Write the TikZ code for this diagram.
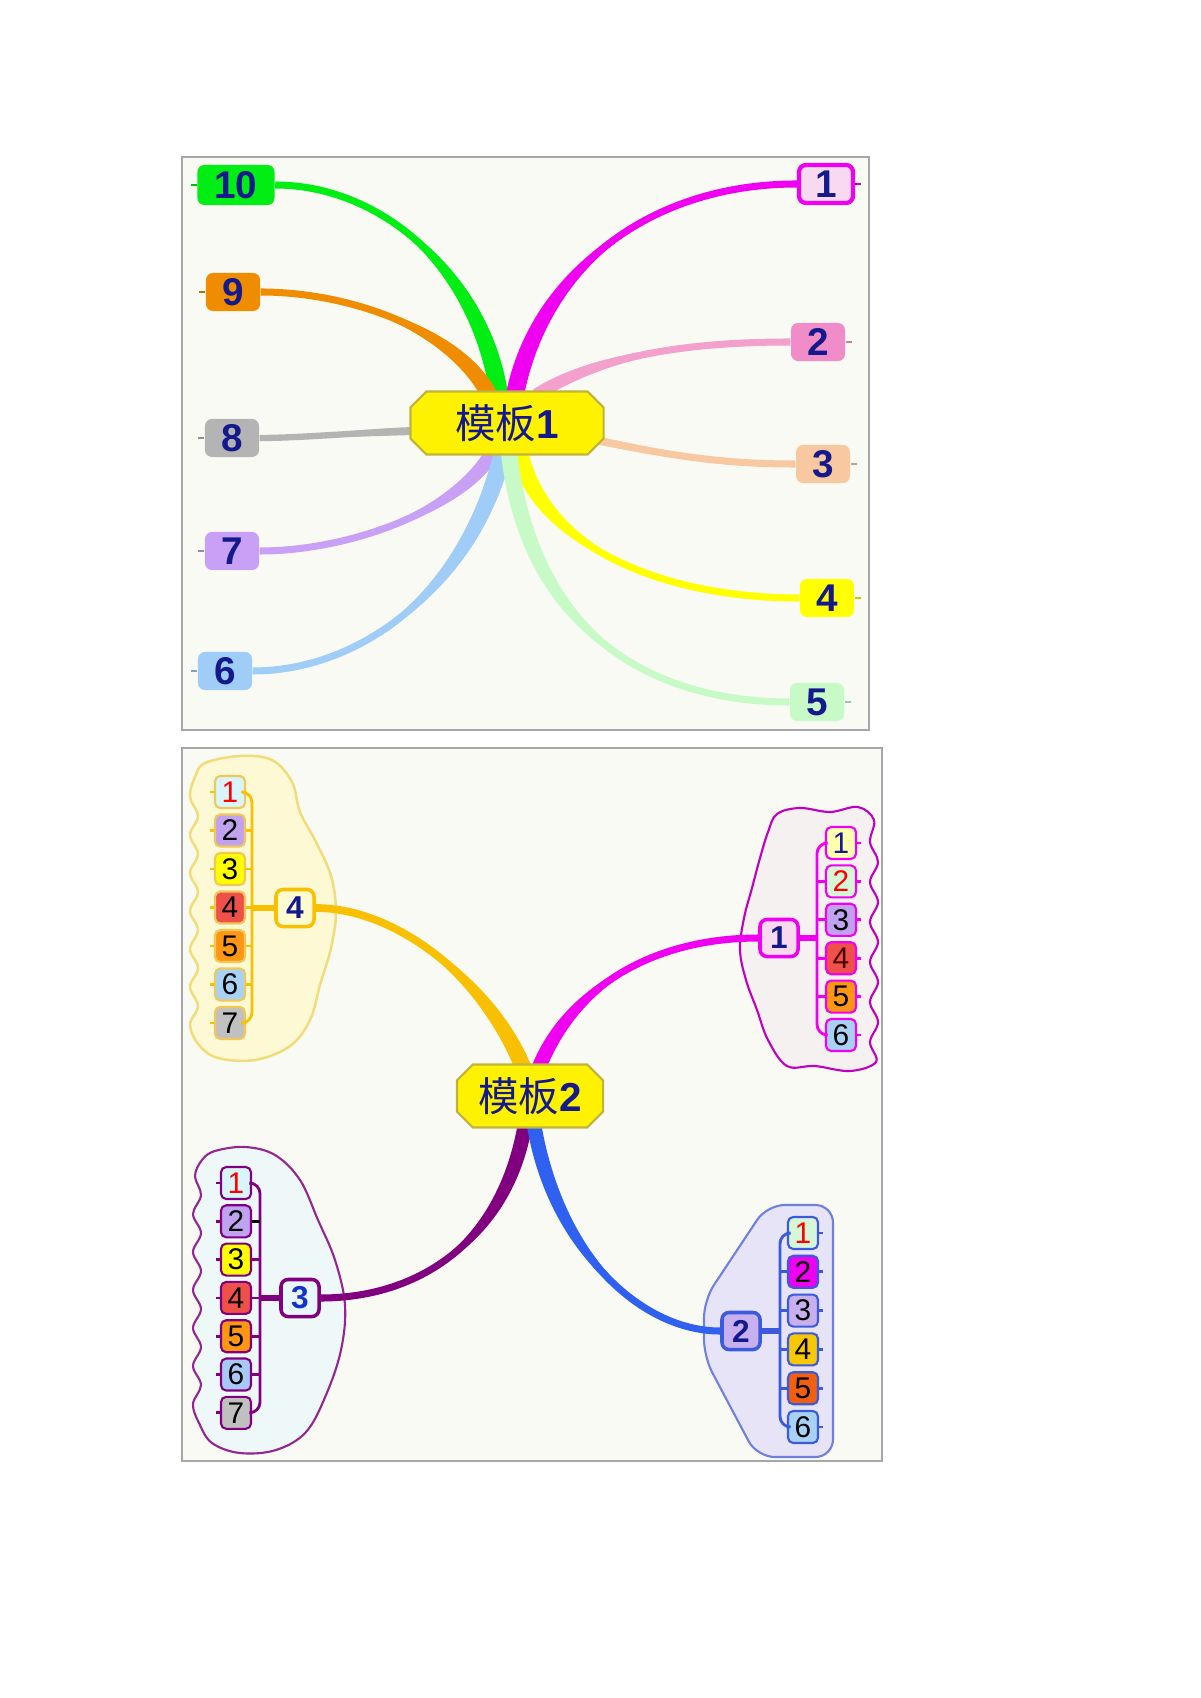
\documentclass[tikz,border=0pt]{standalone}
\usepackage{fontspec}
\setmainfont{Liberation Sans}
\newfontfamily\cjk{Noto Sans CJK SC}
\usetikzlibrary{calc,shapes.misc}

\definecolor{navy}{RGB}{20,25,140}
\definecolor{hubline}{RGB}{190,180,60}
\definecolor{paper}{RGB}{249,250,243}
% top branches
\definecolor{cgreen}{RGB}{0,238,20}
\definecolor{corange}{RGB}{240,140,0}
\definecolor{cgray}{RGB}{180,180,180}
\definecolor{clav}{RGB}{200,160,245}
\definecolor{cblue}{RGB}{160,204,248}
\definecolor{cmag}{RGB}{240,0,240}
\definecolor{cpink}{RGB}{244,160,205}
\definecolor{cpeach}{RGB}{248,200,160}
\definecolor{cyellow}{RGB}{255,255,0}
\definecolor{cmint}{RGB}{200,250,200}
\definecolor{lfpink}{RGB}{248,218,240}
\definecolor{lfrose}{RGB}{240,140,200}
% bottom branches
\definecolor{bgold}{RGB}{248,192,0}
\definecolor{bpurple}{RGB}{128,0,128}
\definecolor{bblue}{RGB}{48,96,240}
\definecolor{gline}{RGB}{60,90,220}
% small boxes
\definecolor{scyan}{RGB}{215,245,250}
\definecolor{slav}{RGB}{192,162,240}
\definecolor{syel}{RGB}{255,255,0}
\definecolor{sred}{RGB}{240,80,74}
\definecolor{sorg}{RGB}{255,150,20}
\definecolor{sblu}{RGB}{168,210,245}
\definecolor{sgry}{RGB}{192,192,192}
\definecolor{slyel}{RGB}{255,255,176}
\definecolor{slgrn}{RGB}{215,245,215}
\definecolor{sgold}{RGB}{248,200,0}
\definecolor{sdorg}{RGB}{240,96,16}
\definecolor{sblv}{RGB}{168,200,248}
\definecolor{slil}{RGB}{200,176,240}
\definecolor{spar}{RGB}{232,246,255}

\pgfdeclarelayer{bg}
\pgfdeclarelayer{mid}
\pgfsetlayers{bg,mid,main}

\tikzset{
  panel/.style={draw=black!35, fill=paper, line width=0.6pt},
  hub/.style={chamfered rectangle, chamfered rectangle xsep=0.08cm,
    chamfered rectangle ysep=0.08cm, draw=hubline,
    fill=yellow, line width=0.6pt, text=navy, inner xsep=0pt, inner ysep=0pt,
    minimum height=0.63cm, font=\fontsize{11.5}{13}\selectfont},
  leaf/.style={rounded corners=2pt, minimum width=0.54cm, minimum height=0.38cm,
    inner sep=0pt, text=navy, font=\fontsize{11}{13}\selectfont\bfseries},
  parent/.style={draw, rounded corners=2pt, line width=1pt, minimum width=0.38cm,
    minimum height=0.37cm, inner sep=0pt, text=navy, font=\fontsize{9}{11}\selectfont\bfseries},
  sub/.style={draw, rounded corners=1.5pt, line width=0.6pt, minimum width=0.30cm,
    minimum height=0.32cm, inner sep=0pt, font=\fontsize{8.5}{10}\selectfont},
  tick/.style={line width=0.8pt},
}

% tapered branch: colour, start, half width, control 1, control 2, end, end width
\newcommand{\twig}[7]{%
  \fill[#1] ($(#2)+(#3)$) .. controls ($(#4)+(#3)$) and (#5) .. (#6)
    .. controls (#5) and ($(#4)-(#3)$) .. ($(#2)-(#3)$) -- cycle;
  \draw[#1, line width=#7] (#2) .. controls (#4) and (#5) .. (#6);
}

\begin{document}
\begin{tikzpicture}[x=0.01cm,y=-0.01cm]
\useasboundingbox (0,0) rectangle (1200,1698);

% panels and clouds
\begin{pgfonlayer}{bg}
\fill[white] (0,0) rectangle (1200,1698);
\draw[panel] (182,157) rectangle (869,730);
\draw[panel] (182,748) rectangle (882,1461);

\draw[fill={rgb,255:red,253;green,249;blue,212}, draw={rgb,255:red,240;green,220;blue,120}, line width=0.7pt]
  plot[smooth cycle, tension=0.6] coordinates {(205,763) (240,756) (272,760) (292,782) (300,812)
  (316,842) (331,876) (336,912) (331,948) (320,985) (310,1020) (290,1046) (255,1060) (218,1058)
  (199,1045) (190,1025) (198,1006) (190,987) (198,968) (190,949) (198,930) (190,911) (198,892)
  (190,873) (198,854) (190,835) (198,816) (190,797) (195,777)};

\draw[fill={rgb,255:red,244;green,241;blue,240}, draw=cmag!80!black, line width=0.6pt]
  plot[smooth cycle, tension=0.6] coordinates {(777,814) (800,808) (830,812) (858,807) (874,820)
  (870,842) (878,862) (870,882) (878,902) (870,922) (878,942) (870,962) (878,982) (870,1002)
  (878,1022) (870,1042) (876,1062) (850,1071) (815,1066) (787,1066) (768,1040) (757,1010)
  (746,980) (740,950) (744,918) (752,888) (760,858) (768,832)};

\draw[fill={rgb,255:red,238;green,248;blue,248}, draw=bpurple!85, line width=0.6pt]
  plot[smooth cycle, tension=0.6] coordinates {(215,1151) (245,1147) (275,1155) (300,1180)
  (318,1220) (335,1260) (345,1305) (341,1350) (326,1395) (306,1432) (276,1450) (240,1453)
  (212,1443) (199,1423) (193,1404) (201,1385) (193,1366) (201,1347) (193,1328) (201,1309)
  (193,1290) (201,1271) (193,1252) (201,1233) (193,1214) (201,1195) (195,1176) (202,1160)};

\draw[fill={rgb,255:red,232;green,228;blue,248}, draw={rgb,255:red,112;green,128;blue,224},
  line width=0.6pt, rounded corners=5pt]
  (767,1205) -- (833,1205) -- (833,1457) -- (757,1457) -- (704,1357) -- (704,1300) -- cycle;
\end{pgfonlayer}

% template 1
\node[hub, minimum width=1.93cm] (hub1) at (507,423) {{\cjk 模板}\textbf{1}};

\node[leaf, fill=cgreen, minimum width=0.77cm, minimum height=0.40cm] (n10) at (236,185) {10};
\node[leaf, fill=corange] (n9) at (233,292) {9};
\node[leaf, fill=cgray] (n8) at (232,438) {8};
\node[leaf, fill=clav] (n7) at (232,551) {7};
\node[leaf, fill=cblue] (n6) at (225,671) {6};
\node[leaf, fill=lfpink, draw=cmag, line width=1.2pt] (n1) at (826,184) {1};
\node[leaf, fill=lfrose] (n2) at (818,342) {2};
\node[leaf, fill=cpeach] (n3) at (823,464) {3};
\node[leaf, fill=cyellow] (n4) at (827,598) {4};
\node[leaf, fill=cmint] (n5) at (817,702) {5};

\coordinate (t10) at ($(hub1.north)+(-8,4)$);
\coordinate (t9) at ($(hub1.north)+(-18,4)$);
\coordinate (t8) at ($(hub1.west)+(4,8)$);
\coordinate (t7) at ($(hub1.south)+(-14,-4)$);
\coordinate (t6) at ($(hub1.south)+(-4,-4)$);
\coordinate (t1) at ($(hub1.north)+(8,4)$);
\coordinate (t2) at ($(hub1.north)+(30,4)$);
\coordinate (t3) at ($(hub1.east)+(-14,16)$);
\coordinate (t4) at ($(hub1.south)+(12,-4)$);
\coordinate (t5) at ($(hub1.south)+(2,-4)$);

\begin{pgfonlayer}{mid}
\twig{cgreen}{t10}{9,-1}{480,270}{380,185}{n10.east}{2pt}
\twig{corange}{t9}{7,-4}{455,330}{350,292}{n9.east}{2pt}
\twig{cgray}{t8}{0,4}{350,433}{300,438}{n8.east}{1.8pt}
\twig{clav}{t7}{7,3}{460,510}{350,551}{n7.east}{2pt}
\twig{cblue}{t6}{9,1}{470,590}{360,671}{n6.east}{2pt}
\twig{cmag}{t1}{9,1}{540,270}{650,184}{n1.west}{2pt}
\twig{cpink}{t2}{4,5}{600,355}{690,342}{n2.west}{2pt}
\twig{cpeach}{t3}{0,4}{680,458}{730,464}{n3.west}{2pt}
\twig{cyellow}{t4}{9,-1}{540,545}{660,598}{n4.west}{2pt}
\twig{cmint}{t5}{8,-2}{530,640}{660,702}{n5.west}{2pt}
\end{pgfonlayer}

% stubs on the outer side
\foreach \n/\c in {n10/cgreen, n9/corange, n8/cgray, n7/clav, n6/cblue}
  \draw[\c!80!black, line width=0.8pt] (\n.west) -- ++(-6,0);
\foreach \n/\c in {n1/cmag, n2/cpink, n3/cpeach, n4/cyellow, n5/cmint}
  \draw[\c!80!black, line width=0.8pt] (\n.east) -- ++(6,0);

% template 2
\node[hub, minimum width=1.46cm] (hub2) at (530,1096) {{\cjk 模板}\textbf{2}};

\node[parent, fill={rgb,255:red,255;green,251;blue,208}, draw=bgold] (p4) at (295,908) {4};
\node[parent, fill=lfpink, draw=cmag] (p1) at (779,938) {1};
\node[parent, fill=spar, draw=bpurple, text={rgb,255:red,20;green,50;blue,200}] (p3) at (300,1298) {3};
\node[parent, fill=slil, draw=gline] (p2) at (741,1331) {2};

% group 4
\foreach \i/\fc/\tc in {1/scyan/red, 2/slav/black, 3/syel/black, 4/sred/black,
    5/sorg/black, 6/sblu/black, 7/sgry/black}
  \node[sub, fill=\fc, text=\tc, draw={rgb,255:red,240;green,200;blue,90}] (s4-\i) at (230,{792+38.5*(\i-1)}) {\i};
\coordinate (b4) at (252,908);
\draw[tick, bgold, rounded corners=3pt] (s4-1.east) -| (b4) |- (s4-7.east);
\foreach \i in {2,...,6}
  \draw[tick, bgold] (s4-\i.east) -- (s4-\i.east -| b4);
\foreach \i in {1,...,7}
  \draw[tick, bgold] (s4-\i.west) -- ++(-4,0);
\draw[bgold, line width=1.8pt] (p4.west) -- (b4);

% group 1
\foreach \i/\fc/\tc in {1/slyel/navy, 2/slgrn/red, 3/slav/black, 4/sred/black!70!red,
    5/sorg/black, 6/sblu/black}
  \node[sub, fill=\fc, text=\tc, draw=cmag] (s1-\i) at (841,{843+38.4*(\i-1)}) {\i};
\coordinate (b1) at (817,938);
\draw[tick, cmag, rounded corners=3pt] (s1-1.west) -| (b1) |- (s1-6.west);
\foreach \i in {2,...,5}
  \draw[tick, cmag] (s1-\i.west) -- (s1-\i.west -| b1);
\foreach \i in {1,...,6}
  \draw[tick, cmag] (s1-\i.east) -- ++(4,0);
\draw[cmag, line width=1.8pt] (p1.east) -- (b1);

% group 3
\foreach \i/\fc/\tc in {1/scyan/red, 2/slav/black, 3/syel/black, 4/sred/black,
    5/sorg/black, 6/sblv/black, 7/sgry/black}
  \node[sub, fill=\fc, text=\tc, draw=bpurple] (s3-\i) at (236,{1183+38.3*(\i-1)}) {\i};
\coordinate (b3) at (260,1298);
\draw[tick, bpurple, rounded corners=3pt] (s3-1.east) -| (b3) |- (s3-7.east);
\foreach \i in {3,...,6}
  \draw[tick, bpurple] (s3-\i.east) -- (s3-\i.east -| b3);
\draw[tick, black] (s3-2.east) -- (s3-2.east -| b3);
\foreach \i in {1,...,7}
  \draw[tick, bpurple] (s3-\i.west) -- ++(-4,0);
\draw[bpurple, line width=1.8pt] (p3.west) -- (b3);

% group 2
\foreach \i/\fc/\tc in {1/slgrn/red, 2/cmag/black, 3/slil/black, 4/sgold/black,
    5/sdorg/black, 6/sblu/black}
  \node[sub, fill=\fc, text=\tc, draw=gline] (s2-\i) at (803,{1233+38.8*(\i-1)}) {\i};
\coordinate (b2) at (780,1331);
\draw[tick, gline, rounded corners=3pt] (s2-1.west) -| (b2) |- (s2-6.west);
\foreach \i in {2,...,5}
  \draw[tick, gline] (s2-\i.west) -- (s2-\i.west -| b2);
\foreach \i in {1,...,6}
  \draw[tick, gline] (s2-\i.east) -- ++(4,0);
\draw[gline, line width=1.8pt] (p2.east) -- (b2);

\coordinate (u4) at ($(hub2.north)+(-7,4)$);
\coordinate (u1) at ($(hub2.north)+(9,4)$);
\coordinate (u3) at ($(hub2.south)+(-5,-4)$);
\coordinate (u2) at ($(hub2.south)+(4,-4)$);

\begin{pgfonlayer}{mid}
\twig{bgold}{u4}{8,-2}{490,985}{400,908}{p4.east}{2.2pt}
\twig{cmag}{u1}{7,2}{570,990}{650,938}{p1.west}{2pt}
\twig{bpurple}{u3}{7,2}{505,1240}{420,1298}{p3.east}{2pt}
\twig{bblue}{u2}{7,-2}{555,1250}{640,1331}{p2.west}{2pt}
\end{pgfonlayer}

\end{tikzpicture}
\end{document}
